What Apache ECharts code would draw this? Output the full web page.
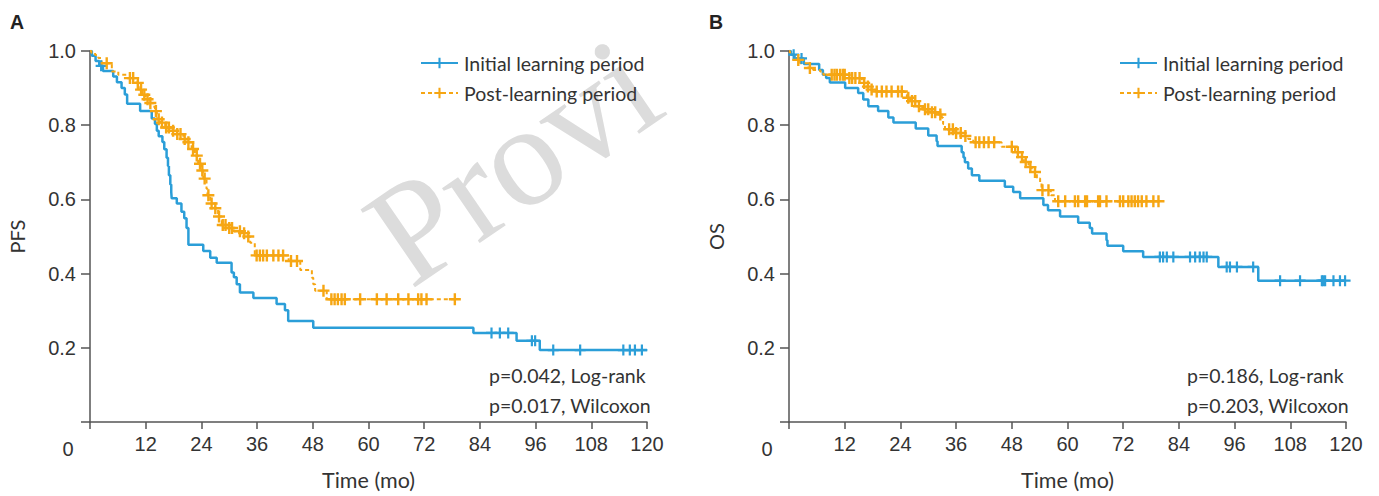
<!DOCTYPE html>
<html><head><meta charset="utf-8">
<script src="https://cdn.jsdelivr.net/npm/echarts@6/dist/echarts.min.js"></script>
<style>html,body{margin:0;padding:0;background:#fff}#c{width:1379px;height:496px}</style>
</head><body><div id="c"></div>
<script>
// ---- tick labels ----
const xTicks = [0,12,24,36,48,60,72,84,96,108,120];
const xTickLabels = ['','12','24','36','48','60','72','84','96','108','120'];
const yTicks = [0,0.2,0.4,0.6,0.8,1.0];
const yTickLabels = ['','0.2','0.4','0.6','0.8','1.0'];
const groupNames = ['Initial learning period','Post-learning period'];
const panelLetters = ['A','B'];
const endpointNames = ['PFS','OS'];
const xAxisTitle = 'Time (mo)';
const pValuesPFS = ['p=0.042, Log-rank','p=0.017, Wilcoxon'];
const pValuesOS = ['p=0.186, Log-rank','p=0.203, Wilcoxon'];
const watermarkText = 'Provi';

// ---- PFS, initial learning period ----
const pfsInitTime = [0,0.4,1.2,2.0,2.8,5.0,5.8,6.8,7.5,8.0,10.8,13.3,14.0,14.4,14.8,15.6,16.0,16.5,16.8,17.0,17.3,17.5,17.6,18.7,19.7,20.3,20.8,21.2,24.4,25.9,27.3,30.5,31.0,31.6,32.3,35.2,40.2,42.0,42.7,48.1,82.6,91.9,96.9,120];
const pfsInitSurv = [1,0.987,0.973,0.96,0.946,0.931,0.916,0.9,0.883,0.858,0.838,0.818,0.803,0.785,0.77,0.755,0.735,0.712,0.69,0.665,0.64,0.62,0.603,0.589,0.567,0.549,0.523,0.478,0.461,0.443,0.429,0.403,0.39,0.371,0.349,0.334,0.318,0.301,0.272,0.254,0.24,0.219,0.194,0.194];
const pfsInitCensor = [2.4,86.5,88.3,90.1,95.2,95.9,99.8,105.6,114.9,116.3,117.4,118.9];

// ---- PFS, post-learning period ----
const pfsPostTime = [0,0.3,1.1,1.8,2.5,4.7,6.1,7.9,10.0,10.5,11.2,12.0,12.8,13.5,14.0,14.4,15.1,16.2,17.6,18.7,20.1,20.8,21.9,22.6,23.3,24.1,24.4,25.1,25.3,25.9,26.9,27.6,28.4,29.8,30.9,33.0,33.8,34.5,35.5,42.8,45.3,47.8,48.1,48.5,51.0,79.0];
const pfsPostSurv = [1,0.995,0.989,0.981,0.967,0.945,0.936,0.927,0.914,0.896,0.882,0.87,0.86,0.85,0.838,0.816,0.807,0.794,0.785,0.776,0.763,0.754,0.736,0.718,0.696,0.678,0.656,0.629,0.611,0.589,0.576,0.554,0.531,0.523,0.514,0.509,0.5,0.483,0.449,0.434,0.41,0.389,0.371,0.354,0.331,0.331];
const pfsPostCensor = [3.6,8.6,9.3,10.3,11.0,11.7,12.4,13.0,14.2,14.8,15.5,16.4,17.0,17.9,18.8,19.5,20.4,21.2,22.2,23.0,23.7,24.2,24.7,25.5,26.2,27.0,27.8,28.6,29.2,30.0,30.6,32.3,33.2,34.1,35.9,36.6,37.3,38.1,39.5,40.6,41.6,43.3,44.6,50.3,52.0,52.7,53.4,54.2,54.9,58.2,61.8,63.9,66.4,68.6,70.7,71.4,72.5,78.6];

// ---- OS, initial learning period ----
const osInitTime = [0,0.4,1.2,3.2,6.5,7.3,8.0,8.8,12.1,14.9,16.0,17.1,19.2,21.4,22.5,27.3,30.0,31.8,32.0,37.2,37.6,37.9,38.6,39.4,41.0,46.5,48.3,49.8,54.8,55.8,58.4,62.3,64.8,65.3,68.4,68.6,72.0,76.3,92.5,101.1,120];
const osInitSurv = [1,0.99,0.98,0.965,0.949,0.936,0.927,0.915,0.9,0.887,0.869,0.851,0.838,0.821,0.807,0.791,0.772,0.757,0.744,0.727,0.713,0.7,0.683,0.665,0.65,0.634,0.62,0.603,0.585,0.571,0.554,0.537,0.523,0.508,0.49,0.475,0.46,0.445,0.418,0.381,0.381];
const osInitCensor = [1.0,2.7,79.9,80.6,81.4,82.8,86.4,87.5,88.5,89.3,90.0,94.3,95.0,96.5,100.0,105.8,110.1,114.8,115.1,115.5,117.3,118.7,119.8];

// ---- OS, post-learning period ----
const osPostTime = [0,0.2,0.9,1.7,2.4,4.2,5.2,6.7,7.4,12.4,15.7,16.6,17.5,18.7,25.0,25.4,26.1,27.5,28.6,29.0,30.4,32.2,32.9,33.2,33.6,35.8,37.5,38.6,39.7,45.8,48.7,49.8,50.6,51.6,52.3,53.4,54.1,54.4,56.4,57.3,79.9];
const osPostSurv = [1,0.995,0.989,0.976,0.967,0.954,0.949,0.945,0.936,0.927,0.914,0.904,0.896,0.891,0.883,0.874,0.865,0.851,0.848,0.843,0.835,0.829,0.82,0.803,0.789,0.779,0.771,0.763,0.754,0.742,0.727,0.714,0.701,0.687,0.674,0.656,0.643,0.625,0.611,0.595,0.595];
const osPostCensor = [2.0,4.5,9.2,9.8,10.3,11.0,11.6,12.0,13.0,13.6,14.3,15.2,16.2,17.0,17.8,18.9,20.0,21.0,22.1,23.5,24.3,25.7,26.5,27.2,28.0,29.3,30.0,30.8,31.5,32.6,34.5,35.3,36.0,37.0,38.0,40.2,41.0,42.0,43.0,44.2,48.0,49.3,50.2,51.0,52.0,53.0,54.6,55.9,58.0,59.5,61.6,62.3,63.8,64.2,66.6,67.0,68.4,71.3,72.0,73.1,73.8,74.5,75.2,76.0,77.0,78.5,79.6];

// ---- build ----
const BLUE = '#2B9ED8', ORANGE = '#F6A613', AXIS = '#555', TXT = '#333';
const PLUS = 'path://M4,0H6V4H10V6H6V10H4V6H0V4H4Z';
const SANS = 'Lato';
function pairs(t, s) { return t.map((v, i) => [v, s[i]]); }
function survAt(t, s, x) { let v = s[0]; for (let i = 0; i < t.length; i++) { if (t[i] <= x) v = s[i]; else break; } return v; }
function censorPts(t, s, c) { return c.map(x => [x, survAt(t, s, x)]); }

const grids = [
  { left: 90, top: 51, width: 557, height: 375 },
  { left: 789, top: 51, width: 557, height: 375 }
];
function xAx(i) {
  return {
    gridIndex: i, type: 'value', min: 0, max: 120, interval: 12,
    axisLine: { lineStyle: { color: AXIS, width: 1.5 } },
    axisTick: { length: 7, lineStyle: { color: AXIS, width: 1.5 } },
    axisLabel: { formatter: v => xTickLabels[xTicks.indexOf(v)] || '', fontFamily: 'Liberation Sans', fontSize: 20, color: TXT, margin: 12 },
    splitLine: { show: false },
    name: xAxisTitle, nameLocation: 'middle', nameGap: 47,
    nameTextStyle: { fontFamily: SANS, fontSize: 21.5, color: TXT }
  };
}
function yAx(i) {
  return {
    gridIndex: i, type: 'value', min: 0, max: 1, interval: 0.2,
    axisLine: { show: true, lineStyle: { color: AXIS, width: 1.5 } },
    axisTick: { show: true, length: 9, lineStyle: { color: AXIS, width: 1.5 } },
    axisLabel: { formatter: v => { const k = yTicks.findIndex(t => Math.abs(t - v) < 1e-6); return k >= 0 ? yTickLabels[k] : ''; }, fontFamily: 'Liberation Sans', fontSize: 20, color: TXT, margin: 14 },
    splitLine: { show: false },
    name: endpointNames[i], nameLocation: 'middle', nameGap: 63, nameRotate: 90,
    nameTextStyle: { fontFamily: SANS, fontSize: 20, color: TXT }
  };
}
function lineSeries(i, name, t, s, color, dashed) {
  return {
    type: 'line', name, xAxisIndex: i, yAxisIndex: i, step: 'end',
    data: pairs(t, s), symbol: PLUS, symbolSize: 11, showSymbol: false,
    itemStyle: { color },
    lineStyle: { color, width: dashed ? 2 : 2.5, type: dashed ? [4, 3] : 'solid' },
    emphasis: { disabled: true }, z: 3
  };
}
function censorSeries(i, name, t, s, c, color, size) {
  return {
    type: 'scatter', name, xAxisIndex: i, yAxisIndex: i,
    data: censorPts(t, s, c), symbol: PLUS, symbolSize: size,
    itemStyle: { color, opacity: 1 }, emphasis: { disabled: true }, z: 4
  };
}
function legendAt(left) {
  return {
    orient: 'vertical', left, top: 48, itemWidth: 37, itemHeight: 13, itemGap: 10,
    data: groupNames, selectedMode: false,
    textStyle: { fontFamily: SANS, fontSize: 19.5, color: TXT, padding: [0, 0, 0, 1] }
  };
}
function txt(x, y, s, opts) {
  return Object.assign({ type: 'text', x, y, silent: true, z: 10,
    style: Object.assign({ text: s, fill: TXT, fontFamily: SANS, fontSize: 19.5, align: 'left', verticalAlign: 'middle' }, opts || {}) });
}

const chart = echarts.init(document.getElementById('c'), null, { renderer: 'svg', width: 1379, height: 496 });
chart.setOption({
  animation: false,
  backgroundColor: '#fff',
  grid: grids,
  xAxis: [xAx(0), xAx(1)],
  yAxis: [yAx(0), yAx(1)],
  legend: [legendAt(415), legendAt(1114)],
  series: [
    lineSeries(0, groupNames[0], pfsInitTime, pfsInitSurv, BLUE, false),
    lineSeries(0, groupNames[1], pfsPostTime, pfsPostSurv, ORANGE, true),
    censorSeries(0, groupNames[0], pfsInitTime, pfsInitSurv, pfsInitCensor, BLUE, 11),
    censorSeries(0, groupNames[1], pfsPostTime, pfsPostSurv, pfsPostCensor, ORANGE, 12),
    lineSeries(1, groupNames[0], osInitTime, osInitSurv, BLUE, false),
    lineSeries(1, groupNames[1], osPostTime, osPostSurv, ORANGE, true),
    censorSeries(1, groupNames[0], osInitTime, osInitSurv, osInitCensor, BLUE, 11),
    censorSeries(1, groupNames[1], osPostTime, osPostSurv, osPostCensor, ORANGE, 12)
  ],
  graphic: [
    { type: 'text', x: 342, y: 190, rotation: 0.6, silent: true, z: -5,
      style: { text: watermarkText, fill: '#dcdcdc', fontFamily: 'Liberation Serif', fontSize: 145, align: 'left', verticalAlign: 'alphabetic' } },
    txt(10, 22, panelLetters[0], { fontFamily: 'Liberation Sans', fontWeight: 'bold', fontSize: 19.5, fill: '#222' }),
    txt(709, 22, panelLetters[1], { fontFamily: 'Liberation Sans', fontWeight: 'bold', fontSize: 19.5, fill: '#222' }),
    txt(68, 449, '0', { fontFamily: 'Liberation Sans', fontSize: 20, align: 'center' }),
    txt(767, 449, '0', { fontFamily: 'Liberation Sans', fontSize: 20, align: 'center' }),
    txt(489, 375, pValuesPFS[0]), txt(489, 405, pValuesPFS[1]),
    txt(1187, 375, pValuesOS[0]), txt(1187, 405, pValuesOS[1])
  ]
});
</script></body></html>
